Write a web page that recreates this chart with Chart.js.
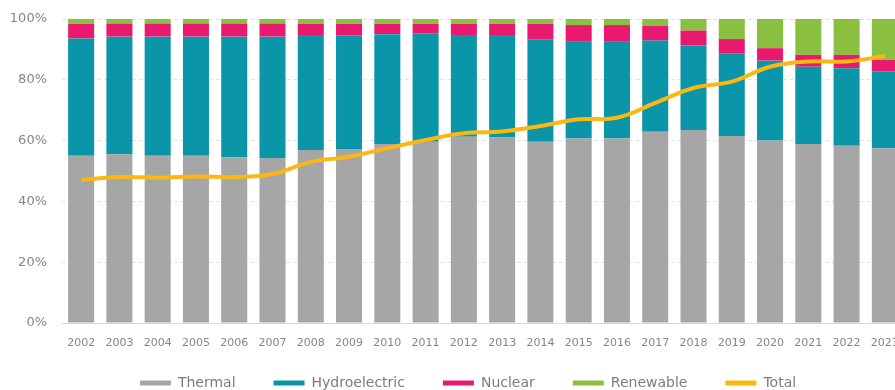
<!DOCTYPE html>
<html>
<head>
<meta charset="utf-8">
<script src="https://cdn.jsdelivr.net/npm/chart.js@4/dist/chart.umd.min.js"></script>
<style>
    html, body { margin: 0; padding: 0; background: #ffffff; overflow: hidden; }
    #wrap { position: relative; width: 940px; height: 412px; }
</style>
</head>
<body>
<div id="wrap"><canvas id="mixChart"></canvas></div>
<script>
// Generation mix by source (% share) and the overall line
const years = ['2002', '2003', '2004', '2005', '2006', '2007', '2008', '2009', '2010', '2011', '2012',
               '2013', '2014', '2015', '2016', '2017', '2018', '2019', '2020', '2021', '2022', '2023'];
const thermal = [55.0, 55.5, 55.0, 55.0, 54.5, 54.3, 56.9, 57.2, 58.9, 59.6, 61.3,
                 61.0, 59.6, 60.7, 60.7, 62.9, 63.5, 61.5, 60.0, 58.9, 58.3, 57.5];
const hydro = [38.6, 38.7, 39.2, 39.2, 39.7, 39.9, 37.8, 37.3, 36.1, 35.7, 33.4,
               33.7, 33.7, 31.8, 31.8, 30.0, 27.9, 27.2, 26.3, 25.4, 25.5, 25.2];
const nuclear = [4.8, 4.3, 4.3, 4.3, 4.3, 4.3, 3.7, 3.9, 3.4, 3.1, 3.7,
                 3.7, 5.1, 5.5, 5.5, 4.8, 4.8, 4.7, 4.1, 3.9, 4.4, 3.8];
const renewable = [1.6, 1.5, 1.5, 1.5, 1.5, 1.5, 1.6, 1.6, 1.6, 1.6, 1.6,
                   1.6, 1.6, 2.0, 2.0, 2.3, 3.8, 6.6, 9.6, 11.8, 11.8, 13.5];
const total = [47.0, 48.0, 47.8, 48.2, 48.0, 49.0, 53.0, 54.7, 57.5, 60.2, 62.4,
               63.0, 64.8, 67.0, 67.5, 72.4, 77.3, 79.4, 84.3, 86.0, 86.0, 87.8];
const yTicks = [0, 20, 40, 60, 80, 100];

const FONT = "'DejaVu Sans', sans-serif";

function barSet(label, data, color) {
    return {
        type: 'bar',
        label: label,
        data: data,
        backgroundColor: color,
        borderWidth: 0,
        barPercentage: 0.68,
        categoryPercentage: 1.0,
        stack: 'mix',
        order: 2
    };
}

// legend sits a bit higher and further right than the default layout puts it
const legendNudge = {
    id: 'legendNudge',
    afterLayout(chart) {
        const lg = chart.legend;
        if (!lg) return;
        lg.top -= 12;
        lg.bottom -= 12;
        lg.left += 16;
        lg.right += 16;
    }
};

new Chart(document.getElementById('mixChart'), {
    data: {
        labels: years,
        datasets: [
            barSet('Thermal', thermal, '#a6a6a6'),
            barSet('Hydroelectric', hydro, '#0a96a8'),
            barSet('Nuclear', nuclear, '#e8196e'),
            barSet('Renewable', renewable, '#8abf3f'),
            {
                type: 'line',
                label: 'Total',
                data: total,
                borderColor: '#fdb713',
                backgroundColor: '#fdb713',
                borderWidth: 4,
                tension: 0.4,
                pointRadius: 0,
                fill: false,
                order: 1
            }
        ]
    },
    plugins: [legendNudge],
    options: {
        responsive: true,
        maintainAspectRatio: false,
        animation: false,
        layout: { padding: { top: 0, right: 36, bottom: 0, left: 0 } },
        plugins: {
            tooltip: { enabled: false },
            legend: {
                position: 'bottom',
                labels: {
                    boxWidth: 31,
                    boxHeight: 5,
                    padding: 38,
                    color: '#7c7c7c',
                    font: { family: FONT, size: 14 },
                    generateLabels: function(chart) {
                        const items = Chart.defaults.plugins.legend.labels.generateLabels(chart);
                        items.forEach(item => { item.lineWidth = 0; });
                        items.sort((a, b) => a.datasetIndex - b.datasetIndex);
                        return items;
                    }
                }
            }
        },
        scales: {
            x: {
                stacked: true,
                afterFit: function(scale) { scale.height = 27; },
                grid: { display: false, drawTicks: false },
                border: { display: true, color: '#d9d9d9', width: 1 },
                ticks: {
                    color: '#868686',
                    font: { family: FONT, size: 11 },
                    padding: 14,
                    maxRotation: 0,
                    autoSkip: false
                }
            },
            y: {
                stacked: true,
                min: 0,
                max: 100,
                afterFit: function(scale) {
                    scale.width = 62;
                    scale.paddingTop = 19;
                },
                afterBuildTicks: function(scale) {
                    scale.ticks = yTicks.map(v => ({ value: v }));
                },
                grid: {
                    color: '#e2e2e2',
                    drawTicks: false
                },
                border: { display: false, dash: [4, 3] },
                ticks: {
                    color: '#868686',
                    font: { family: FONT, size: 13 },
                    padding: 15,
                    callback: v => v + '%'
                }
            }
        }
    }
});
</script>
</body>
</html>
